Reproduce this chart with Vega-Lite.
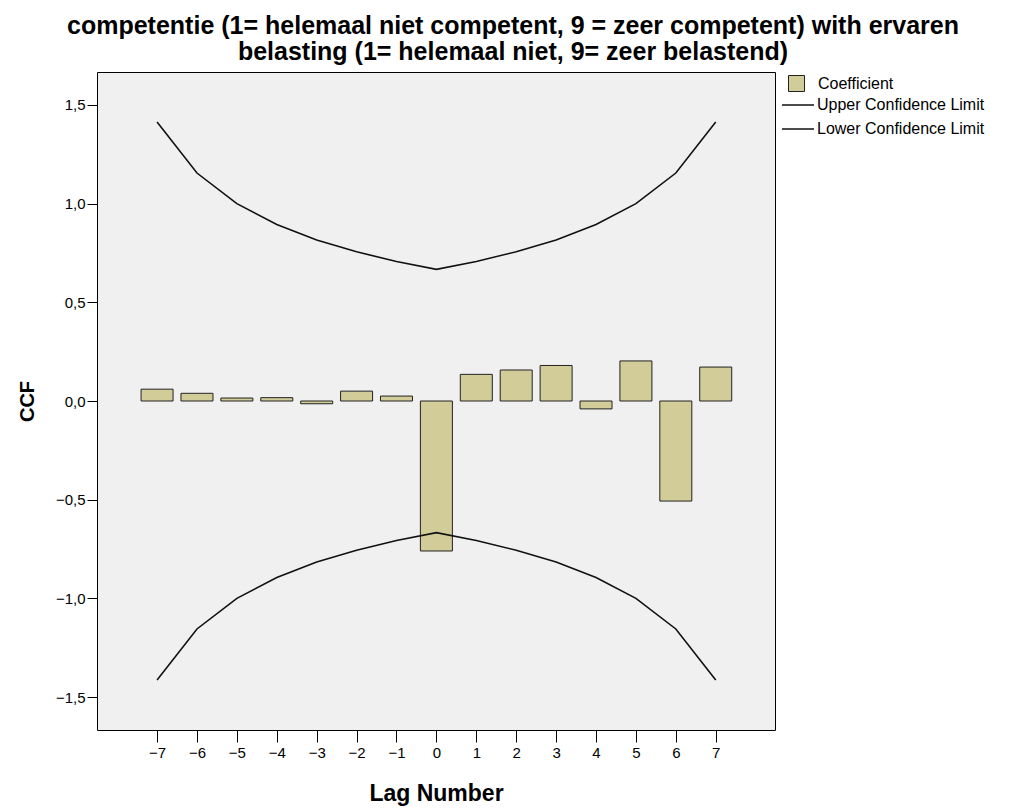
{
  "$schema": "https://vega.github.io/schema/vega-lite/v6.json",
  "autosize": {"type": "none"},
  "padding": {"left": 97, "top": 72, "right": 236, "bottom": 80},
  "width": 678,
  "height": 658,
  "background": "#ffffff",
  "title": {
    "text": ["competentie (1= helemaal niet competent, 9 = zeer competent) with ervaren", "belasting (1= helemaal niet, 9= zeer belastend)"],
    "font": "Liberation Sans",
    "fontSize": 25,
    "fontWeight": "bold",
    "color": "#000000",
    "lineHeight": 26,
    "anchor": "middle",
    "frame": "group",
    "dx": 77,
    "offset": 7
  },
  "config": {
    "view": {"fill": "#F0F0F0", "stroke": "#000000", "strokeWidth": 1},
    "axis": {
      "labelFont": "Liberation Sans",
      "titleFont": "Liberation Sans",
      "labelColor": "#000000",
      "titleColor": "#000000",
      "tickColor": "#000000",
      "grid": false,
      "domain": false
    },
    "legend": {
      "labelFont": "Liberation Sans",
      "labelFontSize": 16,
      "labelColor": "#000000",
      "labelLimit": 300,
      "padding": 0
    }
  },
  "data": {
    "values": [
      {"lag": -7, "coef": 0.06, "upper": 1.414, "lower": -1.414},
      {"lag": -6, "coef": 0.039, "upper": 1.155, "lower": -1.155},
      {"lag": -5, "coef": 0.015, "upper": 1.0, "lower": -1.0},
      {"lag": -4, "coef": 0.017, "upper": 0.894, "lower": -0.894},
      {"lag": -3, "coef": -0.014, "upper": 0.816, "lower": -0.816},
      {"lag": -2, "coef": 0.05, "upper": 0.756, "lower": -0.756},
      {"lag": -1, "coef": 0.025, "upper": 0.707, "lower": -0.707},
      {"lag": 0, "coef": -0.76, "upper": 0.667, "lower": -0.667},
      {"lag": 1, "coef": 0.135, "upper": 0.707, "lower": -0.707},
      {"lag": 2, "coef": 0.157, "upper": 0.756, "lower": -0.756},
      {"lag": 3, "coef": 0.18, "upper": 0.816, "lower": -0.816},
      {"lag": 4, "coef": -0.04, "upper": 0.894, "lower": -0.894},
      {"lag": 5, "coef": 0.203, "upper": 1.0, "lower": -1.0},
      {"lag": 6, "coef": -0.507, "upper": 1.155, "lower": -1.155},
      {"lag": 7, "coef": 0.172, "upper": 1.414, "lower": -1.414}
    ]
  },
  "encoding": {
    "x": {
      "field": "lag",
      "type": "quantitative",
      "scale": {"domain": [-8.38, 8.36], "nice": false, "zero": false},
      "axis": {
        "values": [-7, -6, -5, -4, -3, -2, -1, 0, 1, 2, 3, 4, 5, 6, 7],
        "format": "d",
        "title": "Lag Number",
        "titleFontSize": 23,
        "titleFontWeight": "bold",
        "titlePadding": 22,
        "labelFontSize": 15,
        "tickSize": 12,
        "labelPadding": 3
      }
    }
  },
  "layer": [
    {
      "mark": {"type": "bar", "orient": "vertical", "size": 32, "stroke": "#222222", "strokeWidth": 1},
      "encoding": {
        "y": {
          "field": "coef",
          "type": "quantitative",
          "scale": {"domain": [-1.667, 1.667], "nice": false, "zero": false},
          "axis": {
            "values": [-1.5, -1, -0.5, 0, 0.5, 1, 1.5],
            "labelExpr": "replace(format(datum.value, '.1f'), '.', ',')",
            "title": "CCF",
            "titleFontSize": 20,
            "titleFontWeight": "bold",
            "titlePadding": 18,
            "labelFontSize": 15,
            "tickSize": 10,
            "labelPadding": 2
          }
        },
        "y2": {"datum": 0},
        "fill": {
          "datum": "Coefficient",
          "scale": {"domain": ["Coefficient"], "range": ["#D2CC98"]},
          "legend": {
            "title": null,
            "orient": "none",
            "legendX": 691,
            "legendY": 3,
            "symbolType": "square",
            "symbolSize": 256,
            "symbolStrokeColor": "#222222",
            "symbolStrokeWidth": 1,
            "labelOffset": 13
          }
        }
      }
    },
    {
      "mark": {"type": "rule", "color": "#000000", "strokeWidth": 1.5},
      "encoding": {"y": {"datum": 0}}
    },
    {
      "mark": {"type": "line", "strokeWidth": 1.6},
      "encoding": {
        "y": {"field": "upper", "type": "quantitative"},
        "stroke": {
          "datum": "Upper Confidence Limit",
          "scale": {"domain": ["Upper Confidence Limit", "Lower Confidence Limit"], "range": ["#111111", "#111111"]},
          "legend": {
            "title": null,
            "orient": "none",
            "legendX": 693,
            "legendY": 25,
            "symbolType": "M-4,0H4",
            "symbolSize": 64,
            "symbolStrokeWidth": 1.5,
            "labelOffset": 11,
            "rowPadding": 8
          }
        }
      }
    },
    {
      "mark": {"type": "line", "strokeWidth": 1.6},
      "encoding": {
        "y": {"field": "lower", "type": "quantitative"},
        "stroke": {"datum": "Lower Confidence Limit"}
      }
    }
  ]
}
